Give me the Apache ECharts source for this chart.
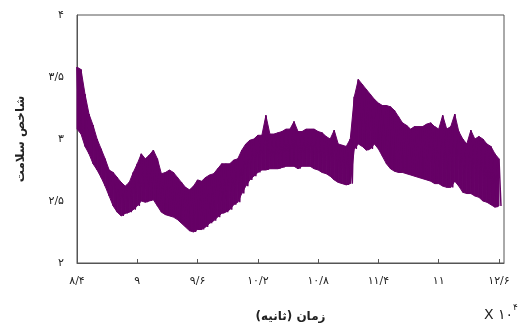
<!DOCTYPE html>
<html>
<head>
<meta charset="utf-8">
<script src="https://cdn.jsdelivr.net/npm/echarts@6/dist/echarts.min.js"></script>
<style>
  html, body { margin: 0; padding: 0; background: #fff; }
  #chart { width: 529px; height: 328px; }
</style>
</head>
<body>
<div id="chart"></div>
<script>
// Health index signal, sampled every 0.04 (×10^4 s) starting at 8.40.
// Each sample keeps the local upper and lower extent of the oscillation.
const sampleStart = 8.40;
const sampleStep = 0.04;

const upperEnvelope = [
  3.58, 3.56, 3.36, 3.20, 3.11, 3.00, 2.92, 2.84, 2.75, 2.73,
  2.69, 2.65, 2.62, 2.65, 2.73, 2.80, 2.88, 2.84, 2.87, 2.91,
  2.84, 2.72, 2.73, 2.75, 2.73, 2.69, 2.65, 2.61, 2.59, 2.62,
  2.67, 2.66, 2.69, 2.71, 2.72, 2.76, 2.80, 2.80, 2.80, 2.83,
  2.84, 2.91, 2.96, 2.99, 3.00, 3.03, 3.03, 3.19, 3.04, 3.04,
  3.05, 3.06, 3.08, 3.08, 3.14, 3.06, 3.06, 3.08, 3.08, 3.08,
  3.06, 3.05, 3.02, 3.00, 3.07, 2.96, 2.95, 2.94, 3.00, 3.34,
  3.48, 3.44, 3.40, 3.36, 3.32, 3.29, 3.27, 3.27, 3.26, 3.23,
  3.18, 3.13, 3.11, 3.08, 3.10, 3.10, 3.10, 3.12, 3.13, 3.10,
  3.08, 3.19, 3.08, 3.10, 3.20, 3.06, 3.00, 2.96, 3.07, 3.00,
  3.02, 3.00, 2.96, 2.94, 2.88, 2.84
];

const lowerEnvelope = [
  3.08, 3.04, 2.94, 2.88, 2.80, 2.75, 2.69, 2.62, 2.54, 2.46,
  2.41, 2.38, 2.40, 2.41, 2.43, 2.46, 2.50, 2.49, 2.50, 2.51,
  2.46, 2.41, 2.39, 2.38, 2.37, 2.35, 2.32, 2.29, 2.26, 2.25,
  2.27, 2.27, 2.29, 2.32, 2.34, 2.37, 2.40, 2.41, 2.43, 2.47,
  2.49, 2.56, 2.62, 2.67, 2.70, 2.73, 2.75, 2.75, 2.76, 2.76,
  2.76, 2.77, 2.78, 2.78, 2.78, 2.76, 2.78, 2.78, 2.78, 2.76,
  2.75, 2.73, 2.72, 2.70, 2.67, 2.65, 2.64, 2.63, 2.64, 2.92,
  2.96, 2.94, 2.91, 2.92, 2.96, 2.92, 2.86, 2.80, 2.76, 2.74,
  2.73, 2.73, 2.72, 2.71, 2.70, 2.69, 2.68, 2.67, 2.66, 2.64,
  2.64, 2.62, 2.61, 2.61, 2.66, 2.62, 2.57, 2.56, 2.56, 2.54,
  2.53, 2.50, 2.49, 2.47, 2.45, 2.46
];

// Axis tick labels (Persian digits, "/" as decimal separator)
const xTickValues = [8.4, 9.0, 9.6, 10.2, 10.8, 11.4, 12.0, 12.6];
const xTickLabels = ['۸/۴', '۹', '۹/۶', '۱۰/۲', '۱۰/۸', '۱۱/۴', '۱۱', '۱۲/۶'];
const yTickValues = [2, 2.5, 3, 3.5, 4];
const yTickLabels = ['۲', '۲/۵', '۳', '۳/۵', '۴'];

const xAxisTitle = 'زمان (ثانیه)';
const yAxisTitle = 'شاخص سلامت';

const bandColor = '#660066';

const sampleTimes = upperEnvelope.map((_, i) => +(sampleStart + i * sampleStep).toFixed(2));

// Band cells: each one spans a sample and the next, between both envelopes
const bandCells = [];
for (let i = 0; i < sampleTimes.length - 1; i++) {
  bandCells.push([
    sampleTimes[i], lowerEnvelope[i], upperEnvelope[i],
    sampleTimes[i + 1], lowerEnvelope[i + 1], upperEnvelope[i + 1]
  ]);
}

// Oscillating trace: alternate between the upper and lower extent of each sample
const trace = [];
for (let i = 0; i < sampleTimes.length; i++) {
  trace.push([sampleTimes[i], upperEnvelope[i]]);
  trace.push([sampleTimes[i] + sampleStep / 2, lowerEnvelope[i]]);
}

function labelFor(values, labels, v) {
  for (let i = 0; i < values.length; i++) {
    if (Math.abs(values[i] - v) < 1e-6) return labels[i];
  }
  return '';
}

const fontFamily = '"DejaVu Sans", sans-serif';
const chart = echarts.init(document.getElementById('chart'), null, { renderer: 'canvas' });

chart.setOption({
  animation: false,
  backgroundColor: '#ffffff',
  grid: {
    left: 77, top: 15, right: 25, bottom: 62,
    show: true, borderColor: '#555', borderWidth: 1, backgroundColor: 'transparent'
  },
  xAxis: {
    type: 'value',
    min: 8.4, max: 12.65, interval: 0.6,
    name: xAxisTitle,
    nameLocation: 'middle',
    nameGap: 48,
    nameTextStyle: { fontFamily, fontSize: 12, fontWeight: 'bold', color: '#222' },
    axisLine: { show: true, lineStyle: { color: '#555', width: 1 } },
    axisTick: { show: true, inside: true, length: 4, lineStyle: { color: '#555' } },
    axisLabel: {
      margin: 13, fontFamily, fontSize: 11, color: '#222',
      showMaxLabel: false,
      formatter: v => labelFor(xTickValues, xTickLabels, Math.round(v * 100) / 100)
    },
    splitLine: { show: false }
  },
  yAxis: {
    type: 'value',
    min: 2, max: 4, interval: 0.5,
    name: yAxisTitle,
    nameLocation: 'middle',
    nameGap: 50,
    nameRotate: 90,
    nameTextStyle: { fontFamily, fontSize: 12, fontWeight: 'bold', color: '#222' },
    axisLine: { show: true, lineStyle: { color: '#555', width: 1 } },
    axisTick: { show: false },
    axisLabel: {
      margin: 13, fontFamily, fontSize: 11, color: '#222',
      formatter: v => labelFor(yTickValues, yTickLabels, v)
    },
    splitLine: { show: false }
  },
  series: [
    {
      type: 'custom',
      data: bandCells,
      silent: true,
      z: 2,
      encode: { x: [0, 3], y: [1, 2, 4, 5] },
      renderItem: (params, api) => {
        const a = api.coord([api.value(0), api.value(2)]);
        const b = api.coord([api.value(3), api.value(5)]);
        const c = api.coord([api.value(3), api.value(4)]);
        const d = api.coord([api.value(0), api.value(1)]);
        return {
          type: 'polygon',
          shape: { points: [a, b, c, d] },
          style: { fill: bandColor, stroke: bandColor, lineWidth: 1 }
        };
      }
    },
    {
      type: 'line',
      data: trace,
      symbol: 'none',
      lineStyle: { color: bandColor, width: 1.5 },
      z: 3
    }
  ],
  graphic: [{
    type: 'text',
    left: 484,
    top: 303,
    style: {
      text: '{b|X ۱۰}{s|۴}',
      rich: {
        b: { fontFamily, fontSize: 14, fill: '#222', verticalAlign: 'bottom' },
        s: { fontFamily, fontSize: 9, fill: '#222', verticalAlign: 'top', padding: [0, 0, 10, 0] }
      }
    }
  }]
});
</script>
</body>
</html>
